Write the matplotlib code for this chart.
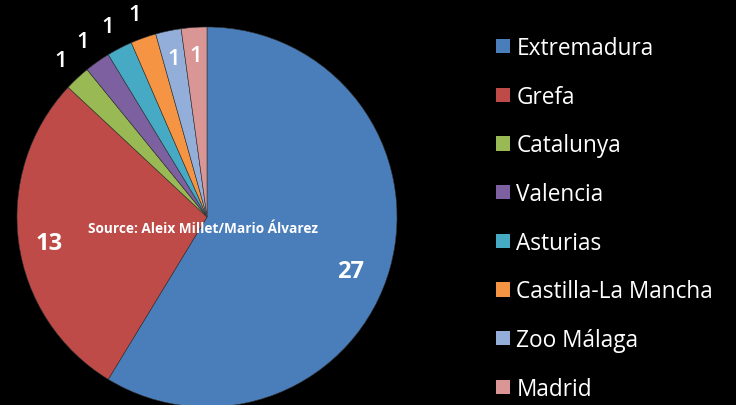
import numpy as np
import matplotlib
matplotlib.use("Agg")
import matplotlib.pyplot as plt
from matplotlib.patches import Patch

### data
regions = ["Extremadura", "Grefa", "Catalunya", "Valencia", "Asturias",
           "Castilla-La Mancha", "Zoo Málaga", "Madrid"]
counts = [27, 13, 1, 1, 1, 1, 1, 1]
colors = ["#4A7EBB", "#BE4B48", "#98B954", "#7D60A0", "#46AAC5",
          "#F59443", "#93AFD9", "#D99694"]
source = "Source: Aleix Millet/Mario Álvarez"

plt.rcParams["font.family"] = ["Open Sans", "DejaVu Sans"]

W, H = 736, 406
fig = plt.figure(figsize=(W / 100, H / 100), dpi=100, facecolor="black")
ax = fig.add_axes([0, 0, 1, 1])
ax.set_facecolor("black")

cx, cy, R = 207, H - 218, 190
wedges, _ = ax.pie(counts, colors=colors, startangle=90, counterclock=False,
                   center=(cx, cy), radius=R, frame=True,
                   wedgeprops=dict(linewidth=0.4, edgecolor="#333333"))
ax.set_xlim(0, W)
ax.set_ylim(0, H)
ax.set_aspect("equal")
ax.axis("off")

### value labels: big slices inside, first four small ones outside
for i, (w, v) in enumerate(zip(wedges, counts)):
    mid = (w.theta1 + w.theta2) / 2
    if v > 5:
        r, size, weight = 0.84 * R, 17, "bold"
        if i == 0:
            mid -= 5   # excel nudges this one down a bit
            r = 0.81 * R
        else:
            mid += 1.5
    elif i < 6:
        r, size, weight = 1.13 * R, 16, "semibold"
    else:
        r, size, weight = 0.85 * R, 16, "semibold"
    mid = np.deg2rad(mid)
    ax.text(cx + r * np.cos(mid), cy + r * np.sin(mid), str(v),
            color="white", fontsize=size, fontweight=weight,
            ha="center", va="center")

ax.text(203, H - 229, source, color="white", fontsize=9.8, fontweight="bold",
        ha="center", va="center")

handles = [Patch(facecolor=c, edgecolor="none") for c in colors]
leg = fig.legend(handles, regions, loc="upper left", bbox_to_anchor=(496 / W, 1 - 37 / H),
                 frameon=False, labelcolor="white", fontsize=16.3,
                 handlelength=0.6, handleheight=0.6, handletextpad=0.3,
                 labelspacing=1.09, borderpad=0, borderaxespad=0)

fig.savefig("out.png", dpi=100, facecolor="black")
